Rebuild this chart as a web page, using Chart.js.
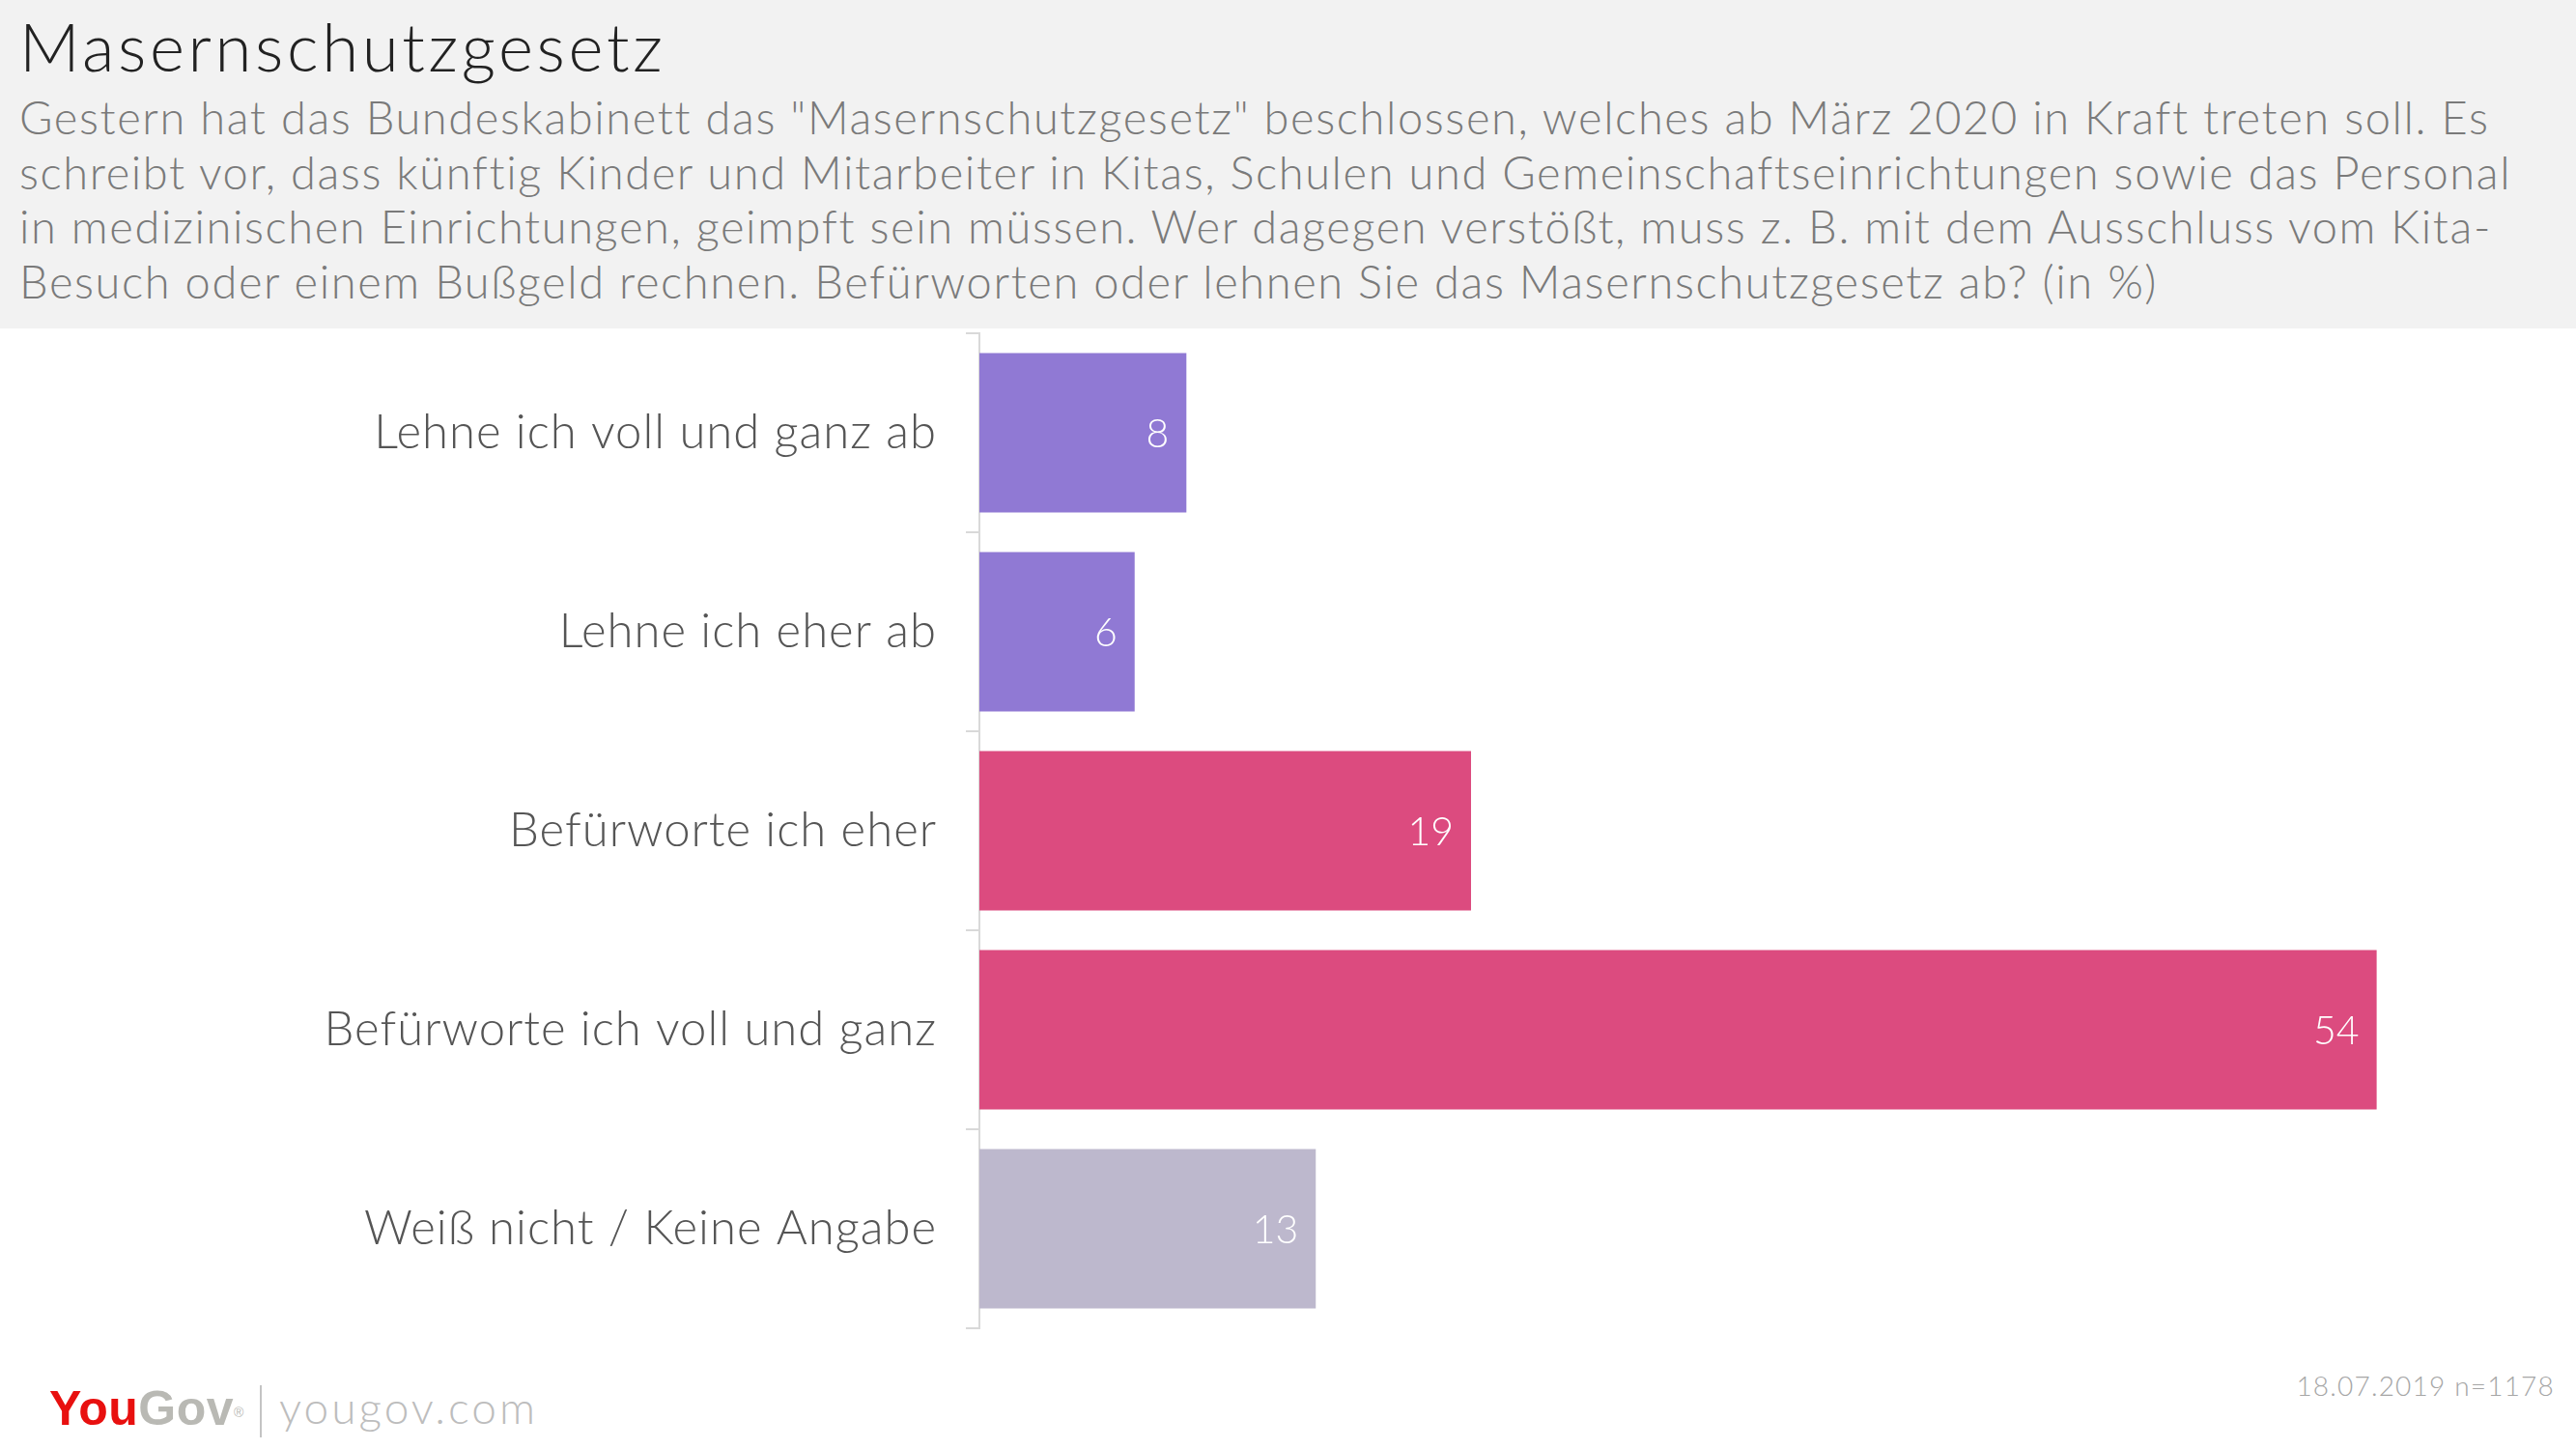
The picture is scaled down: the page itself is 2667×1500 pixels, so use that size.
<!DOCTYPE html>
<html>
<head>
<meta charset="utf-8">
<script src="https://cdn.jsdelivr.net/npm/chart.js@4.4.1/dist/chart.umd.min.js"></script>
<style>
  body { margin: 0; width: 2667px; height: 1500px; background: #fff; position: relative; overflow: hidden; font-family: Lato, sans-serif; }
  #header { position: absolute; left: 0; top: 0; width: 2667px; height: 340px; background: #f2f2f2; }
  #title { position: absolute; left: 20px; top: 6px; font-size: 69px; line-height: 83px; letter-spacing: 3.6px; color: #222; font-weight: 300; white-space: nowrap; }
  #subtitle { position: absolute; left: 20px; top: 93px; font-size: 47px; line-height: 56.5px; letter-spacing: 1.6px; color: #7a7a7a; font-weight: 300; white-space: nowrap; }
  #chartBox { position: absolute; left: 0; top: 340px; width: 2667px; height: 1060px; }
  #logo { position: absolute; left: 51px; top: 1433px; font-family: "Liberation Sans", Arial, sans-serif; font-weight: bold; font-size: 50px; line-height: 50px; letter-spacing: 0.5px; white-space: nowrap; }
  #logo .you { color: #e8100f; }
  #logo .gov { color: #b9b9b4; }
  #logo sup { font-size: 14px; vertical-align: top; position: relative; top: 4px; color: #b9b9b4; font-weight: normal; letter-spacing: 0; }
  #sep { position: absolute; left: 269px; top: 1434px; width: 2px; height: 54px; background: #c4c4c4; }
  #site { position: absolute; left: 289px; top: 1429px; font-size: 46px; line-height: 55px; letter-spacing: 3px; color: #bdbdbd; font-weight: 300; }
  #note { position: absolute; right: 22px; top: 1418px; font-size: 28px; line-height: 33px; letter-spacing: 1.2px; color: #a6a6a6; font-weight: 300; }
</style>
</head>
<body>
<div id="header">
  <div id="title">Masernschutzgesetz</div>
  <div id="subtitle">
    <div>Gestern hat das Bundeskabinett das "Masernschutzgesetz" beschlossen, welches ab März 2020 in Kraft treten soll. Es</div>
    <div>schreibt vor, dass künftig Kinder und Mitarbeiter in Kitas, Schulen und Gemeinschaftseinrichtungen sowie das Personal</div>
    <div>in medizinischen Einrichtungen, geimpft sein müssen. Wer dagegen verstößt, muss z. B. mit dem Ausschluss vom Kita-</div>
    <div>Besuch oder einem Bußgeld rechnen. Befürworten oder lehnen Sie das Masernschutzgesetz ab? (in %)</div>
  </div>
</div>
<div id="chartBox"><canvas id="results"></canvas></div>
<div id="logo"><span class="you">You</span><span class="gov">Gov</span><sup>®</sup></div>
<div id="sep"></div>
<div id="site">yougov.com</div>
<div id="note">18.07.2019 n=1178</div>

<script>
// answer categories and shares in percent
const answers = [
    'Lehne ich voll und ganz ab',
    'Lehne ich eher ab',
    'Befürworte ich eher',
    'Befürworte ich voll und ganz',
    'Weiß nicht / Keine Angabe'
];
const shares = [8, 6, 19, 54, 13];
const barColors = ['#9079d4', '#9079d4', '#dc4b7f', '#dc4b7f', '#bdb8cd'];

// a bit of letter spacing, the original font is wider than Lato
const spacing = {
    id: 'spacing',
    beforeLayout(chart) { chart.ctx.letterSpacing = '1px'; },
    beforeDraw(chart) { chart.ctx.letterSpacing = '1px'; }
};

// writes the value inside the end of each bar
const valueLabels = {
    id: 'valueLabels',
    afterDatasetsDraw(chart) {
        const ctx = chart.ctx;
        const meta = chart.getDatasetMeta(0);
        ctx.save();
        ctx.letterSpacing = '0px';
        ctx.font = '300 41px Lato';
        ctx.fillStyle = '#ffffff';
        ctx.textAlign = 'right';
        ctx.textBaseline = 'middle';
        meta.data.forEach((bar, i) => {
            ctx.fillText(String(shares[i]), bar.x - 18, bar.y + 2);
        });
        ctx.restore();
    }
};

function createChart(){
    const canvas = document.getElementById('results');

    new Chart(canvas, {
        type: 'bar',
        data: {
            labels: answers,
            datasets: [{
                data: shares,
                backgroundColor: barColors,
                borderWidth: 0,
                categoryPercentage: 1.0,
                barPercentage: 0.8
            }]
        },
        options: {
            indexAxis: 'y',
            responsive: true,
            maintainAspectRatio: false,
            animation: false,
            layout: {
                padding: { top: 5, bottom: 25, right: 51, left: 0 }
            },
            scales: {
                x: {
                    display: false,
                    min: 0,
                    max: 59.8
                },
                y: {
                    afterFit(scale) {
                        scale.width = 1014;
                        scale.paddingTop = 0;        // labels sit inside the category bands
                        scale.paddingBottom = 0;
                    },
                    grid: {
                        drawOnChartArea: false,
                        color: '#d9d9d9',
                        lineWidth: 2,
                        tickLength: 14
                    },
                    border: {
                        color: '#d9d9d9',
                        width: 2
                    },
                    ticks: {
                        padding: 30,
                        color: '#555555',
                        font: { family: 'Lato', size: 49, weight: '300' }
                    }
                }
            },
            plugins: {
                legend: { display: false },
                tooltip: { enabled: false }
            }
        },
        plugins: [spacing, valueLabels]
    });
}

createChart();
</script>
</body>
</html>
